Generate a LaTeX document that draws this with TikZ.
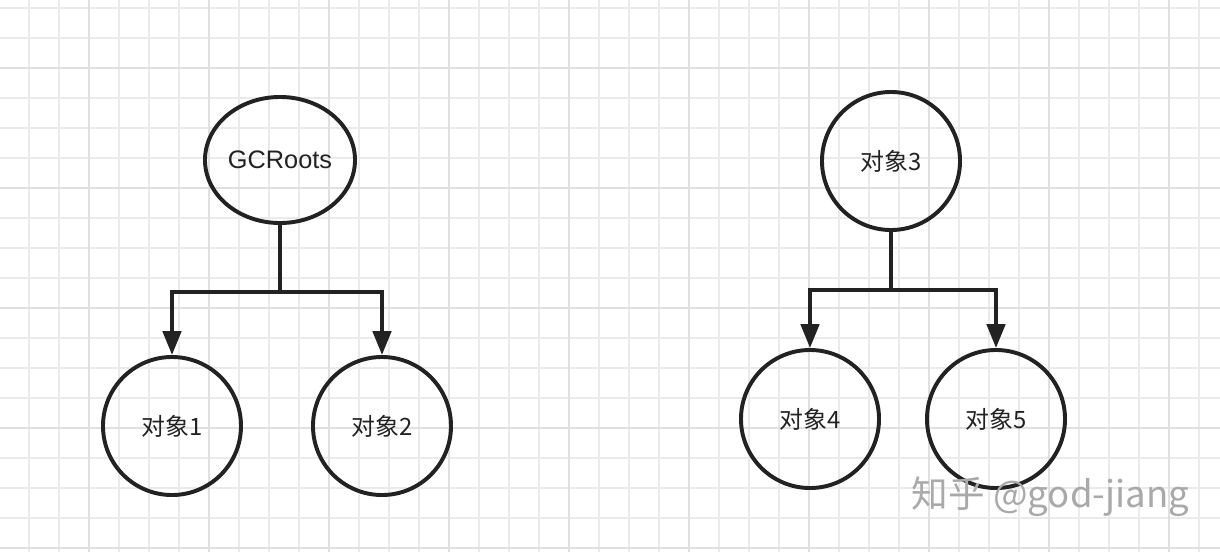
\documentclass[tikz,border=0pt]{standalone}
\usepackage{fontspec}
\setmainfont{Liberation Sans}
\newfontfamily\cjk{Noto Sans CJK SC}
\usetikzlibrary{arrows.meta, positioning, shapes.geometric}

\definecolor{gridline}{HTML}{EAEAEA}
\definecolor{gridmajor}{HTML}{E0E0E0}
\definecolor{ink}{HTML}{222222}
\definecolor{mark}{HTML}{A9A9A9}

\begin{document}
\begin{tikzpicture}[
    x=0.025cm, y=-0.025cm,
    obj/.style={draw=ink, circle, line width=2.8pt, minimum size=3.45cm, inner sep=0pt, font=\fontsize{17}{19}\selectfont\cjk, text=ink},
    root/.style={obj, ellipse, minimum width=3.75cm, minimum height=3.15cm, font=\fontsize{18}{20}\selectfont},
    link/.style={draw=ink, line width=2.8pt},
    ref/.style={link, -{Triangle[length=17pt, width=13pt]}}
]
    \useasboundingbox (0,0) rectangle (1220,552);
    \fill[white] (0,0) rectangle (1220,552);
    % grid
    \foreach \x in {29,59,...,1219}
        \draw[gridline, line width=0.9pt] (\x,0) -- (\x,552);
    \foreach \y in {8,38,...,548}
        \draw[gridline, line width=0.9pt] (0,\y) -- (1220,\y);
    \foreach \x in {89,209,...,1169}
        \draw[gridmajor, line width=1.4pt] (\x,0) -- (\x,552);
    \foreach \y in {68,188,...,548}
        \draw[gridmajor, line width=1.4pt] (0,\y) -- (1220,\y);

    % reachable from the roots
    \node[root] (gc) at (280,160) {GCRoots};
    \node[obj] (o1) at (172,426) {对象1};
    \node[obj] (o2) at (382,426) {对象2};
    \coordinate (lsplit) at (280,292);

    \draw[link] (gc) -- (lsplit);
    \draw[ref] (lsplit) -| (o1);
    \draw[ref] (lsplit) -| (o2);

    % not reachable
    \node[obj] (o3) at (891,161) {对象3};
    \node[obj] (o4) at (810,419) {对象4};
    \node[obj] (o5) at (996,419) {对象5};
    \coordinate (rsplit) at (891,290);

    \draw[link] (o3) -- (rsplit);
    \draw[ref] (rsplit) -| (o4);
    \draw[ref] (rsplit) -| (o5);

    \node[text=mark, font=\fontsize{26}{28}\selectfont\cjk, anchor=west] (wm) at (907,497) {知乎 @god-jiang};
\end{tikzpicture}
\end{document}
